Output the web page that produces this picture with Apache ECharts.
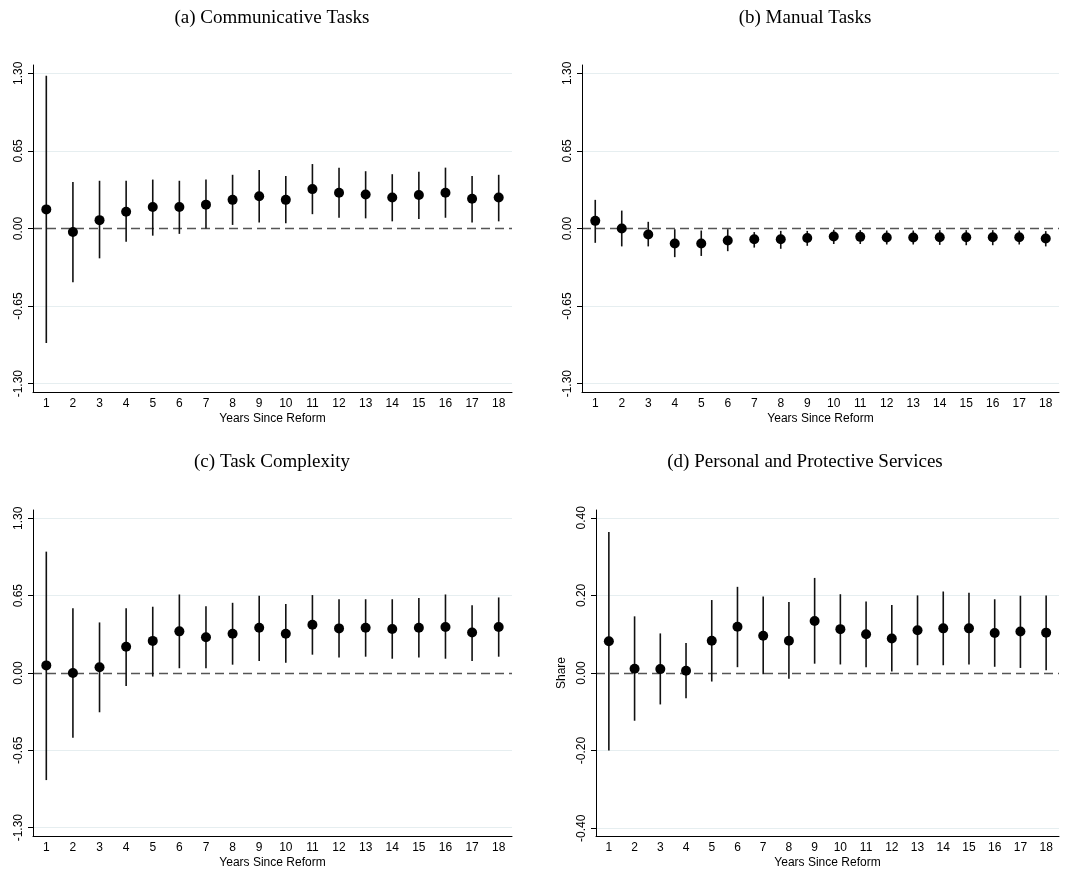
<!DOCTYPE html>
<html><head><meta charset="utf-8">
<script src="https://cdn.jsdelivr.net/npm/echarts@6/dist/echarts.min.js"></script>
<style>html,body{margin:0;padding:0;background:#fff}#c{width:1069px;height:877px}</style>
</head><body><div id="c"></div>
<script>
const years = ['1','2','3','4','5','6','7','8','9','10','11','12','13','14','15','16','17','18'];
const titles = ['(a) Communicative Tasks','(b) Manual Tasks','(c) Task Complexity','(d) Personal and Protective Services'];
const ticksTask = [-1.3,-0.65,0,0.65,1.3];
const ticksShare = [-0.4,-0.2,0,0.2,0.4];

const commEst = [0.16,-0.03,0.07,0.14,0.18,0.18,0.20,0.24,0.27,0.24,0.33,0.30,0.285,0.26,0.28,0.30,0.25,0.26];
const commHi  = [1.28,0.39,0.40,0.40,0.41,0.40,0.41,0.45,0.49,0.44,0.54,0.51,0.48,0.455,0.475,0.51,0.44,0.45];
const commLo  = [-0.96,-0.45,-0.25,-0.11,-0.06,-0.045,0.0,0.03,0.05,0.045,0.12,0.09,0.085,0.06,0.08,0.09,0.05,0.06];

const manEst = [0.064,0.0,-0.05,-0.126,-0.126,-0.10,-0.09,-0.09,-0.08,-0.067,-0.07,-0.075,-0.075,-0.073,-0.073,-0.073,-0.073,-0.084];
const manHi  = [0.24,0.15,0.056,-0.006,-0.017,-0.006,-0.03,-0.02,-0.02,-0.01,-0.014,-0.017,-0.017,-0.014,-0.014,-0.014,-0.017,-0.022];
const manLo  = [-0.12,-0.15,-0.15,-0.24,-0.23,-0.19,-0.16,-0.17,-0.145,-0.13,-0.13,-0.134,-0.134,-0.137,-0.14,-0.14,-0.134,-0.15];

const cplxEst = [0.064,0.0,0.048,0.22,0.27,0.35,0.30,0.33,0.38,0.33,0.405,0.375,0.38,0.37,0.38,0.386,0.34,0.386];
const cplxHi  = [1.02,0.545,0.425,0.545,0.557,0.66,0.56,0.59,0.65,0.58,0.655,0.62,0.62,0.62,0.63,0.66,0.57,0.635];
const cplxLo  = [-0.90,-0.545,-0.33,-0.11,-0.03,0.04,0.04,0.07,0.10,0.087,0.154,0.13,0.137,0.12,0.13,0.12,0.10,0.137];

const servEst = [0.082,0.011,0.010,0.006,0.083,0.119,0.096,0.083,0.134,0.113,0.10,0.089,0.11,0.115,0.115,0.103,0.107,0.104];
const servHi  = [0.363,0.146,0.102,0.077,0.188,0.222,0.197,0.183,0.245,0.203,0.184,0.175,0.20,0.21,0.207,0.19,0.199,0.20];
const servLo  = [-0.20,-0.123,-0.081,-0.065,-0.022,0.015,-0.003,-0.015,0.024,0.022,0.015,0.004,0.02,0.02,0.022,0.016,0.013,0.007];

const panels = [
  {est:commEst,hi:commHi,lo:commLo,ticks:ticksTask,lim:1.37,grid:{left:33,top:65,width:479,height:327},name:''},
  {est:manEst,hi:manHi,lo:manLo,ticks:ticksTask,lim:1.37,grid:{left:582,top:65,width:477,height:327},name:''},
  {est:cplxEst,hi:cplxHi,lo:cplxLo,ticks:ticksTask,lim:1.37,grid:{left:33,top:510,width:479,height:326},name:''},
  {est:servEst,hi:servHi,lo:servLo,ticks:ticksShare,lim:0.42,grid:{left:596,top:510,width:463,height:326},name:'Share'}
];
const font = '"Liberation Sans", Arial, sans-serif';
const option = {animation:false, backgroundColor:'#fff',
  title: titles.map((t,i)=>({text:t,left:(i%2===0?267:800),top:(i<2?4:448),textAlign:'center',
    textStyle:{fontFamily:'"Liberation Serif", "Times New Roman", serif',fontSize:19,fontWeight:'normal',color:'#000'}})),
  grid:[],xAxis:[],yAxis:[],series:[]};
panels.forEach((p,i)=>{
  option.grid.push(p.grid);
  option.xAxis.push({type:'category',gridIndex:i,data:years,boundaryGap:true,
    name:'Years Since Reform',nameLocation:'middle',nameGap:21,nameTextStyle:{fontFamily:font,fontSize:12,color:'#000'},
    axisLine:{onZero:false,lineStyle:{color:'#000',width:1}},axisTick:{alignWithLabel:true,length:5,lineStyle:{color:'#000'}},
    axisLabel:{fontFamily:font,fontSize:12,color:'#000',margin:6,interval:0},splitLine:{show:false}});
  option.yAxis.push({type:'value',gridIndex:i,min:-p.lim,max:p.lim,
    name:p.name,nameLocation:'middle',nameGap:28,nameTextStyle:{fontFamily:font,fontSize:12,color:'#000'},
    axisLine:{show:true,onZero:false,lineStyle:{color:'#000',width:1}},
    axisTick:{show:true,length:5,customValues:p.ticks,lineStyle:{color:'#000'}},
    axisLabel:{fontFamily:font,fontSize:12,color:'#000',rotate:90,margin:8,customValues:p.ticks,formatter:v=>v.toFixed(2)},
    splitLine:{show:false}});
  const gridVals = p.ticks.filter(v=>v!==0);
  option.series.push({type:'custom',xAxisIndex:i,yAxisIndex:i,
    data:years.map((y,k)=>[k,p.lo[k],p.hi[k]]),
    renderItem:(params,api)=>{const a=api.coord([api.value(0),api.value(1)]);const b=api.coord([api.value(0),api.value(2)]);
      return {type:'line',shape:{x1:a[0],y1:a[1],x2:b[0],y2:b[1]},style:{stroke:'#111',lineWidth:1.6}};},
    markLine:{silent:true,symbol:'none',label:{show:false},z:0,
      data:[...gridVals.map(v=>({yAxis:v,lineStyle:{color:'#e6eef0',type:'solid',width:1}})),
            {yAxis:0,lineStyle:{color:'#555',type:[9,5],width:1.3}}]},z:2});
  option.series.push({type:'scatter',xAxisIndex:i,yAxisIndex:i,data:p.est,symbol:'circle',symbolSize:10,
    itemStyle:{color:'#000',opacity:1},z:3});
});
echarts.init(document.getElementById('c'),null,{renderer:'canvas'}).setOption(option);
</script></body></html>
